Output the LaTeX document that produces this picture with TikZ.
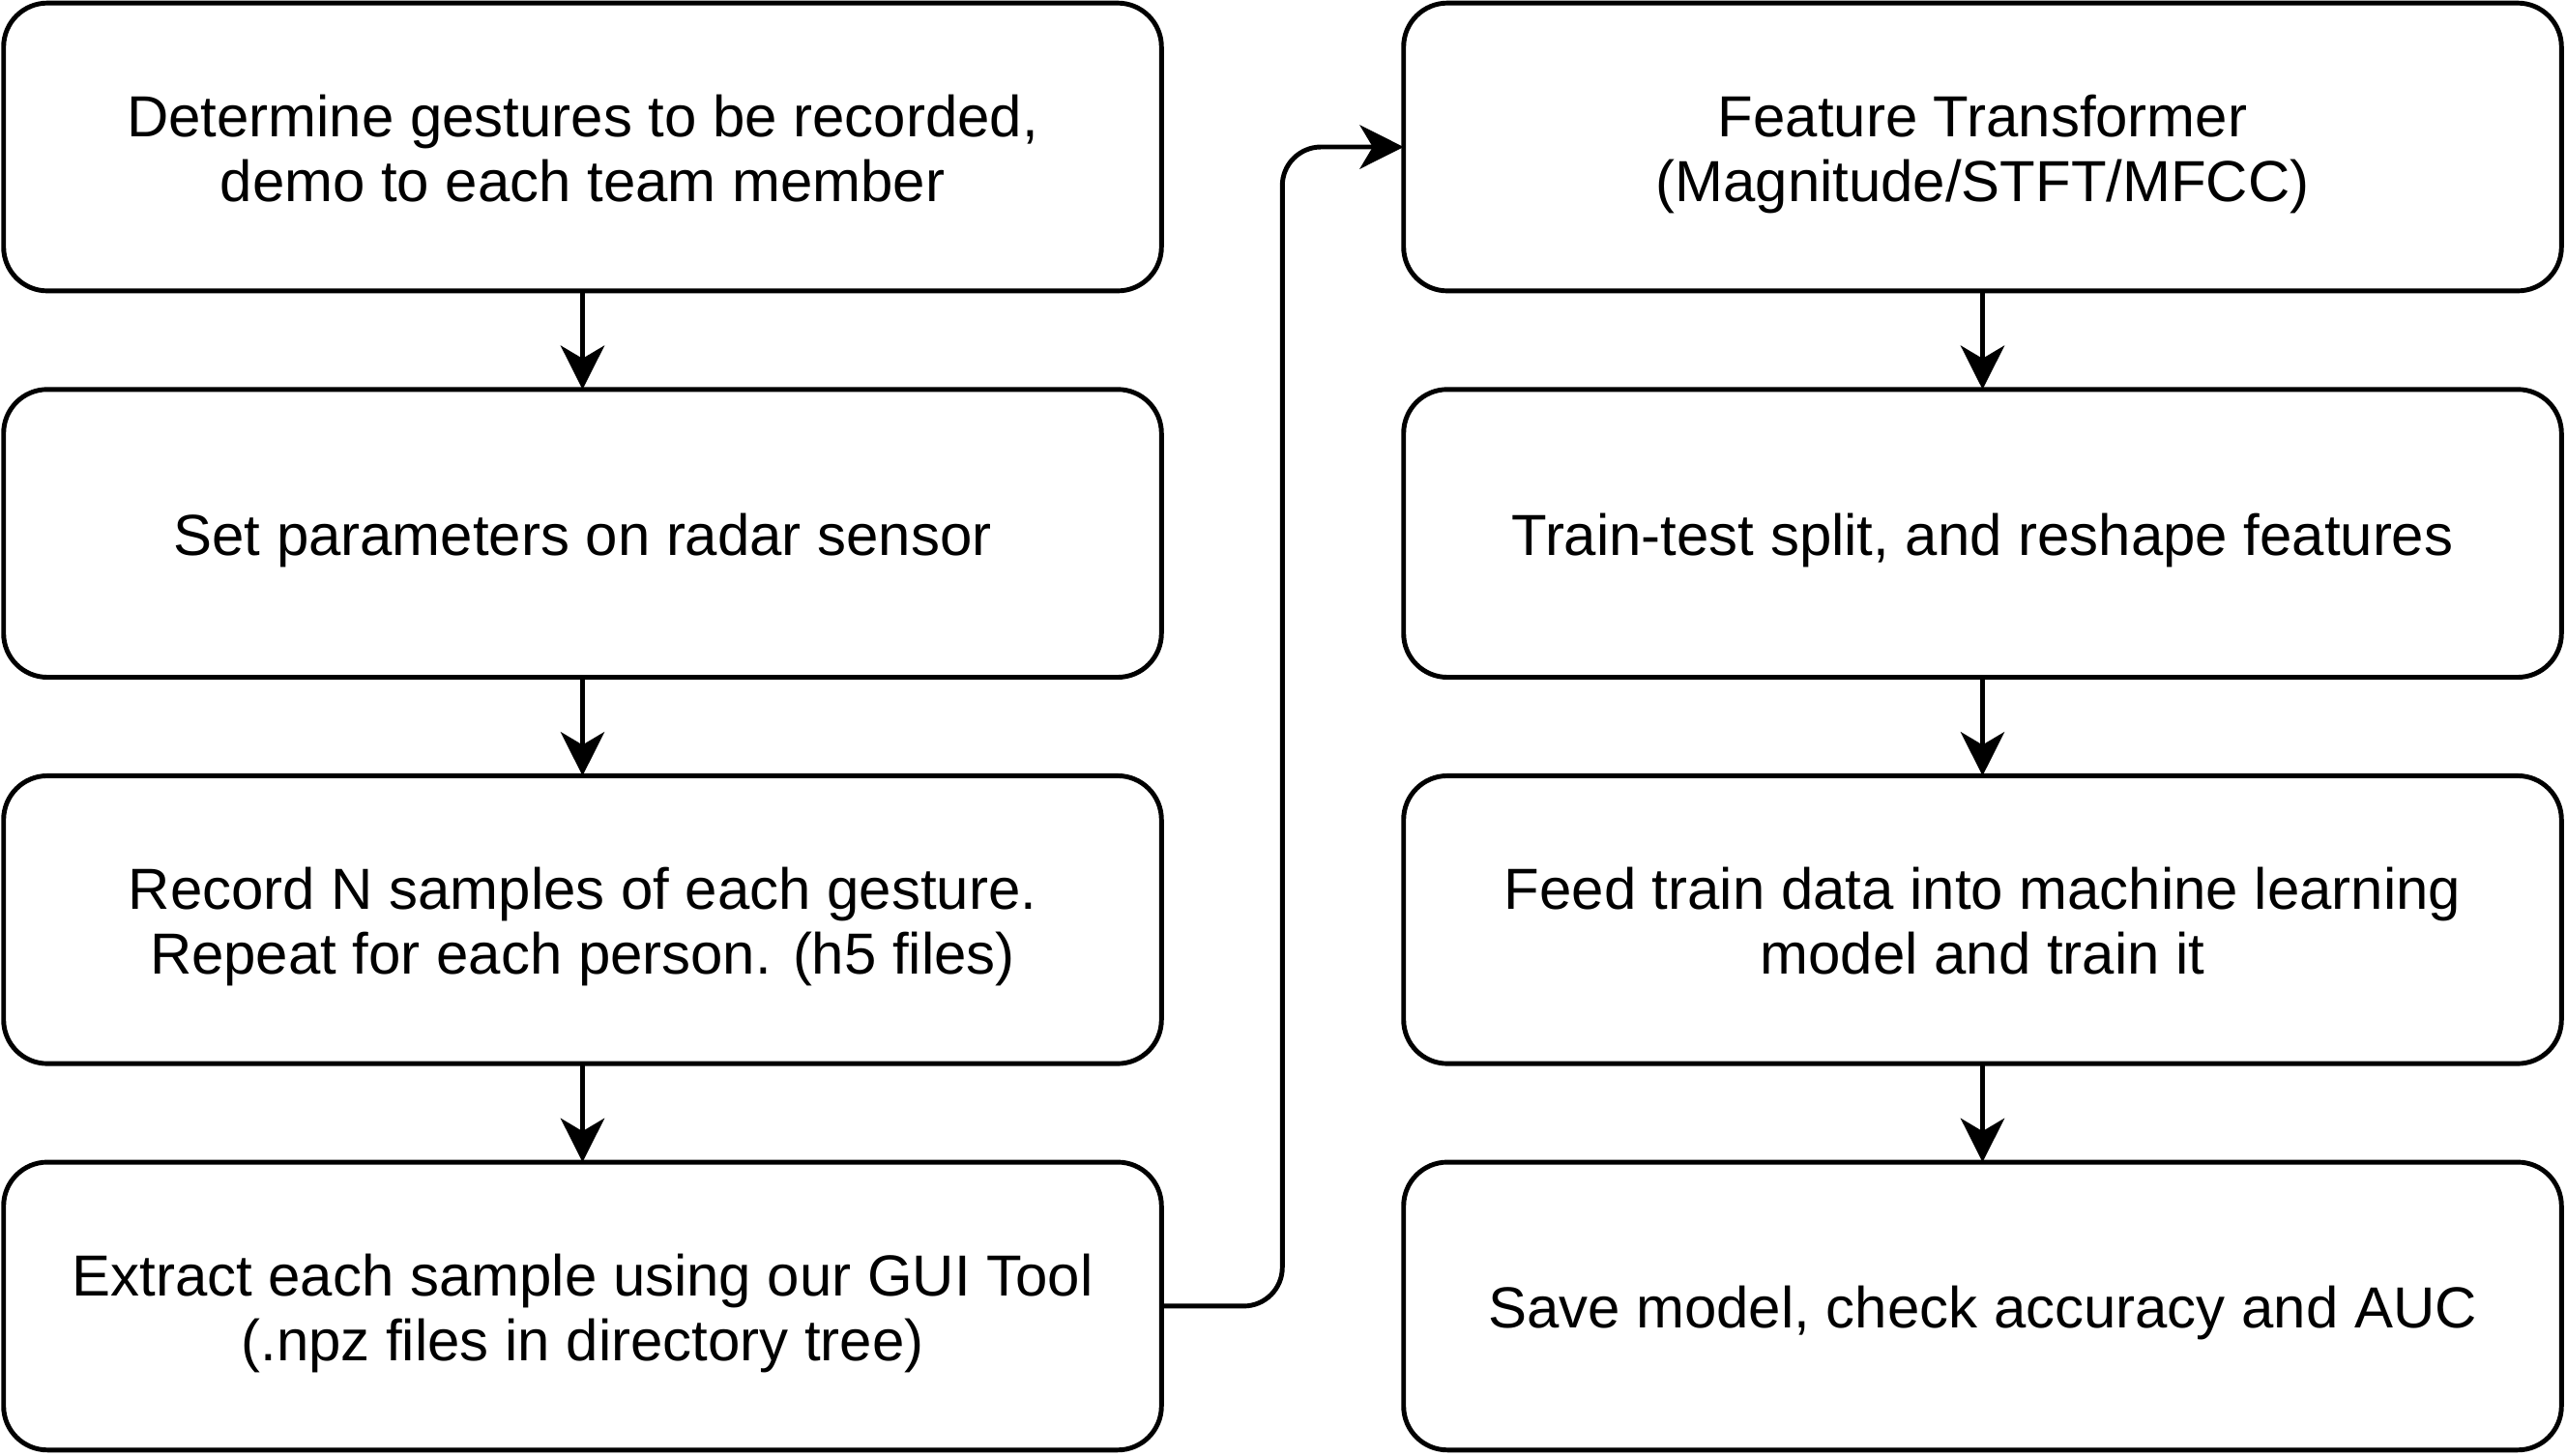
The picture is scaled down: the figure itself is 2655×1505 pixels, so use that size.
\documentclass[tikz,border=0pt]{standalone}
\usepackage{fontspec}
\setmainfont{Liberation Sans}
\usetikzlibrary{positioning,arrows.meta}
% two centred lines, baselines 14.4pt apart
\newcommand\twolines[2]{\vbox{\baselineskip=14.4pt\lineskiplimit=-\maxdimen
  \halign{\hfil##\hfil\cr#1\cr#2\cr}}}

\begin{document}
\begin{tikzpicture}[x=0.0075cm,y=-0.0075cm,
    stepbox/.style={draw, line width=1.05pt, rounded corners=0.34cm,
      minimum width=8.99cm, minimum height=2.235cm,
      inner sep=0pt, outer sep=0pt, font=\fontsize{12.8}{14.4}\selectfont,
      text height=12.2pt, text depth=2.4pt},
    twoline/.style={text height=26.6pt},
    flow/.style={line width=1.05pt,
      -{Stealth[length=0.34cm,width=0.34cm,inset=0.1cm]}}]
  %%%%% START %%%%%
  \useasboundingbox (0,0) rectangle (2655,1505);

  % left column
  \node[stepbox, twoline] (gest) at (602.5,152) {\twolines{Determine gestures to be recorded,}{demo to each team member}};
  \node[stepbox, below=0.765cm of gest] (param) {Set parameters on radar sensor};
  \node[stepbox, twoline, below=0.765cm of param] (record) {\twolines{Record N samples of each gesture.}{Repeat for each person. (h5 files)}};
  \node[stepbox, twoline, below=0.765cm of record] (extract) {\twolines{Extract each sample using our GUI Tool}{(.npz files in directory tree)}};

  % right column
  \node[stepbox, twoline, right=1.88cm of gest] (feat) {\twolines{Feature Transformer}{(Magnitude/STFT/MFCC)}};
  \node[stepbox, below=0.765cm of feat] (split) {Train-test split, and reshape features};
  \node[stepbox, twoline, below=0.765cm of split] (train) {\twolines{Feed train data into machine learning}{model and train it}};
  \node[stepbox, below=0.765cm of train] (save) {Save model, check accuracy and AUC};

  \draw[flow] (gest) -- (param);
  \draw[flow] (param) -- (record);
  \draw[flow] (record) -- (extract);
  \draw[flow, rounded corners=0.3cm] (extract.east) -- ++(125,0) |- (feat.west);
  \draw[flow] (feat) -- (split);
  \draw[flow] (split) -- (train);
  \draw[flow] (train) -- (save);
  %%%%% END %%%%%
\end{tikzpicture}
\end{document}
